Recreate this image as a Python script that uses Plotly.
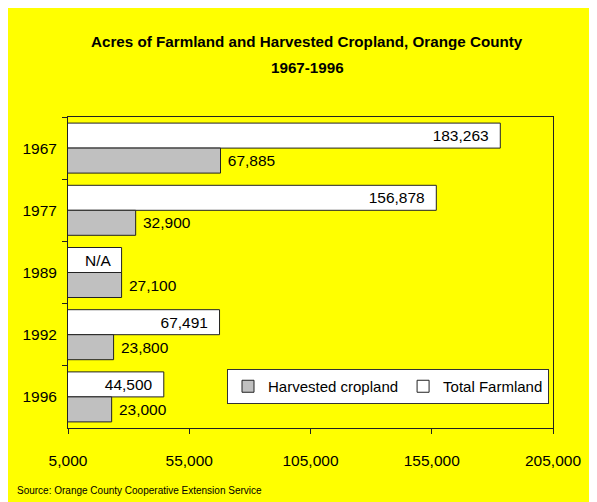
import plotly.graph_objects as go

years = ["1967", "1977", "1989", "1992", "1996"]
total_farmland = [183263, 156878, None, 67491, 44500]
harvested = [67885, 32900, 27100, 23800, 23000]
x_ticks = [5000, 55000, 105000, 155000, 205000]

FONT = "Liberation Sans, Arial, sans-serif"

# N/A value is drawn at the harvested length with an "N/A" label
farm_len = [t if t is not None else h for t, h in zip(total_farmland, harvested)]
farm_txt = [(f"{t:,}" if t is not None else "N/A") + "  " for t in total_farmland]
harv_txt = [" " + f"{h:,}" for h in harvested]

# page body has an 8px margin; figure coordinates = screen - 8
W, H = 589, 494
L, R, T, B = 60, 44, 109, 74
pw, ph = W - L - R, H - T - B
OFF = 8


def px_x(p):
    return (p - OFF - L) / pw


def px_y(p):
    return (H - B - (p - OFF)) / ph


fig = go.Figure()
fig.add_trace(go.Bar(
    y=years, x=farm_len, orientation="h", name="Total Farmland",
    marker=dict(color="#FFFFFF", line=dict(color="#222222", width=1)),
    text=farm_txt, textposition="inside", insidetextanchor="end",
    textfont=dict(family=FONT, size=15.5, color="#000000"),
    constraintext="none", hoverinfo="skip", textangle=0,
))
fig.add_trace(go.Bar(
    y=years, x=harvested, orientation="h", name="Harvested cropland",
    marker=dict(color="#C0C0C0", line=dict(color="#222222", width=1)),
    text=harv_txt, textposition="outside",
    textfont=dict(family=FONT, size=15.5, color="#000000"),
    constraintext="none", hoverinfo="skip", textangle=0, cliponaxis=False,
))

fig.update_layout(
    width=W, height=H, autosize=False,
    margin=dict(l=L, r=R, t=T, b=B, pad=0, autoexpand=False),
    paper_bgcolor="#FFFF00", plot_bgcolor="#FFFF00",
    barmode="group", bargap=0.196, bargroupgap=0,
    font=dict(family=FONT, size=15.5, color="#000000"),
    showlegend=True,
    legend=dict(
        orientation="h", x=px_x(227), y=px_y(369), xanchor="left", yanchor="top",
        bgcolor="#FFFFFF", bordercolor="#333333", borderwidth=1,
        traceorder="reversed", font=dict(family=FONT, size=15, color="#000000"),
    ),
    annotations=[
        dict(text="<b>Acres of Farmland and Harvested Cropland, Orange County</b>",
             xref="paper", yref="paper", x=px_x(307), y=px_y(41),
             xanchor="center", yanchor="middle", showarrow=False,
             font=dict(family=FONT, size=15.2, color="#000000")),
        dict(text="<b>1967-1996</b>",
             xref="paper", yref="paper", x=px_x(307), y=px_y(67),
             xanchor="center", yanchor="middle", showarrow=False,
             font=dict(family=FONT, size=15.2, color="#000000")),
        dict(text="Source: Orange County Cooperative Extension Service",
             xref="paper", yref="paper", x=px_x(15), y=px_y(490),
             xanchor="left", yanchor="middle", showarrow=False,
             font=dict(family=FONT, size=10, color="#000000")),
    ],
)

fig.update_xaxes(
    range=[x_ticks[0], x_ticks[-1]], tickvals=x_ticks, tickformat=",d",
    showgrid=False, zeroline=False, showline=True, linecolor="#222222", linewidth=1,
    mirror=True, ticks="outside", ticklen=5, tickcolor="#222222",
    ticklabelstandoff=13, tickfont=dict(family=FONT, size=15.5),
)
fig.update_yaxes(
    autorange="reversed", type="category",
    showgrid=False, zeroline=False, showline=True, linecolor="#222222", linewidth=1,
    mirror=True, ticks="outside", ticklen=5, tickcolor="#222222",
    tickson="boundaries", ticklabelstandoff=7, tickfont=dict(family=FONT, size=15.5),
)

fig.write_html("out.html")
